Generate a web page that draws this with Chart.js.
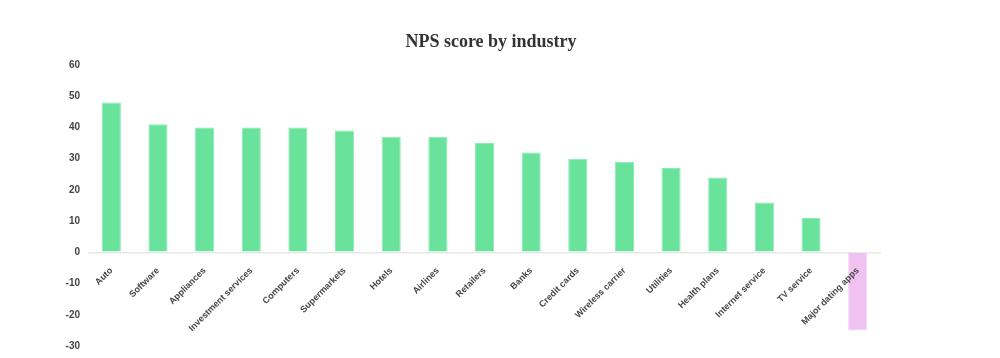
<!DOCTYPE html>
<html>
<head>
<meta charset="utf-8">
<script src="https://cdn.jsdelivr.net/npm/chart.js@4.4.1/dist/chart.umd.min.js"></script>
<style>
html,body{margin:0;padding:0;background:#fff;}
#wrap{width:1000px;height:358px;position:relative;}
</style>
</head>
<body>
<div id="wrap"><canvas id="c"></canvas></div>
<script>
const industries = ["Auto","Software","Appliances","Investment services","Computers","Supermarkets","Hotels","Airlines","Retailers","Banks","Credit cards","Wireless carrier","Utilities","Health plans","Internet service","TV service","Major dating apps"];
const npsScores = [48,41,40,40,40,39,37,37,35,32,30,29,27,24,16,11,-25];
const highlighted = ["Major dating apps"];
const yTicks = [-30,-20,-10,0,10,20,30,40,50,60];

const green = '#69e39b', greenBorder = '#8aecb3';
const pink = '#f0c2f2', pinkBorder = '#f5d3f6';

new Chart(document.getElementById('c'), {
  type: 'bar',
  data: {
    labels: industries,
    datasets: [{
      data: npsScores,
      backgroundColor: industries.map(l => highlighted.includes(l) ? pink : green),
      borderColor: industries.map(l => highlighted.includes(l) ? pinkBorder : greenBorder),
      borderWidth: 1,
      barPercentage: 0.41,
      categoryPercentage: 1.0
    }]
  },
  options: {
    responsive: true,
    maintainAspectRatio: false,
    animation: false,
    layout: { padding: { left: 0, right: 18, top: 0, bottom: 12 } },
    plugins: {
      legend: { display: false },
      tooltip: { enabled: false },
      title: {
        display: true,
        text: 'NPS score by industry',
        color: '#333',
        font: { family: 'Liberation Serif', size: 18, weight: 'bold' },
        padding: { top: 32, bottom: 11.4 }
      }
    },
    scales: {
      x: {
        position: { y: 0 },
        grid: { display: false },
        border: { display: false },
        ticks: {
          z: 1,
          minRotation: 45, maxRotation: 45,
          color: '#444',
          font: { family: 'Liberation Sans', size: 9, weight: 'bold' },
          padding: 5
        }
      },
      y: {
        min: -30, max: 60,
        afterFit: s => { s.width = 88; s.paddingTop = 0; s.paddingBottom = 0; },
        afterBuildTicks: s => { s.ticks = yTicks.map(v => ({ value: v })); },
        grid: {
          drawTicks: false,
          color: ctx => (ctx.tick && ctx.tick.value === 0) ? '#e8e8e8' : 'rgba(0,0,0,0)',
          lineWidth: 1.5
        },
        border: { display: false },
        ticks: {
          stepSize: 10,
          color: '#444',
          padding: 8,
          font: { family: 'Liberation Sans', size: 10, weight: 'bold' }
        }
      },
      y2: {
        position: 'right',
        display: true,
        afterFit: s => { s.width = 101; },
        grid: { display: false },
        border: { display: false },
        ticks: { display: false }
      }
    }
  }
});
</script>
</body>
</html>
